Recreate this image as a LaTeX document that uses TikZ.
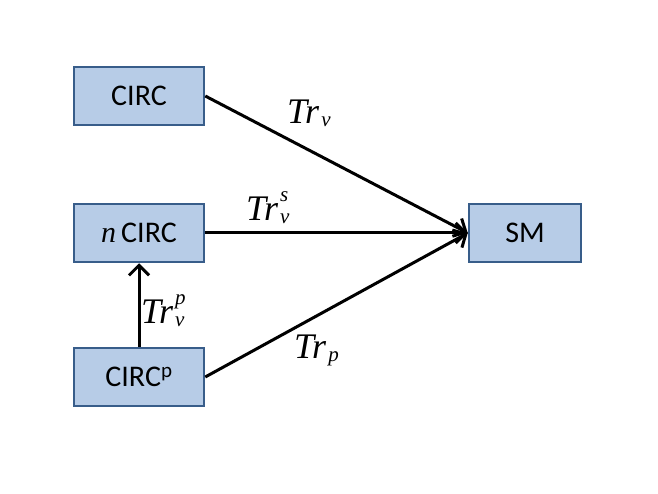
\documentclass[tikz,border=0pt]{standalone}
\usepackage{fontspec}
\setmainfont{Carlito}
\newfontfamily\labfont{Liberation Serif}
\usetikzlibrary{arrows.meta}
\definecolor{boxfill}{HTML}{B7CCE7}
\definecolor{boxline}{HTML}{385D8A}
\newcommand{\trlab}[2]{{\labfont\itshape\fontsize{36}{36}\selectfont Tr\kern2pt\rlap{\raisebox{-3pt}{\fontsize{21}{21}\selectfont #1}}\raisebox{19pt}{\fontsize{21}{21}\selectfont #2}}}
\begin{document}
\begin{tikzpicture}[x=1pt,y=-1pt,
  blk/.style={draw=boxline,line width=2.5pt,fill=boxfill,minimum width=130pt,minimum height=58pt,inner sep=0pt,font=\fontsize{30}{30}\selectfont},
  conn/.style={draw=black,line width=3pt,-{Straight Barb[length=10pt,width=20pt,line width=3pt]}},
  lab/.style={anchor=base west,inner sep=0pt}]
\useasboundingbox (0,0) rectangle (658,494);
\node[blk] (circ) at (139,96) {CIRC};
\node[blk] (ncirc) at (139,233) {{\labfont\itshape n}\,CIRC};
\node[blk] (circp) at (139,377) {CIRC\textsuperscript{p}};
\node[blk,minimum width=112pt] (sm) at (525,233) {SM};
\draw[conn] (circ.east) -- (sm.west);
\draw[conn] (ncirc.east) -- (sm.west);
\draw[conn] (circp.east) -- (sm.west);
\draw[conn] (circp.north) -- (ncirc.south);
\node[lab] (l1) at (287,124) {\trlab{v}{}};
\node[lab] (l2) at (246,221) {\trlab{v}{s}};
\node[lab] (l3) at (294,358) {\trlab{p}{}};
\node[lab] (l4) at (141,323) {\trlab{v}{p}};
\end{tikzpicture}
\end{document}
